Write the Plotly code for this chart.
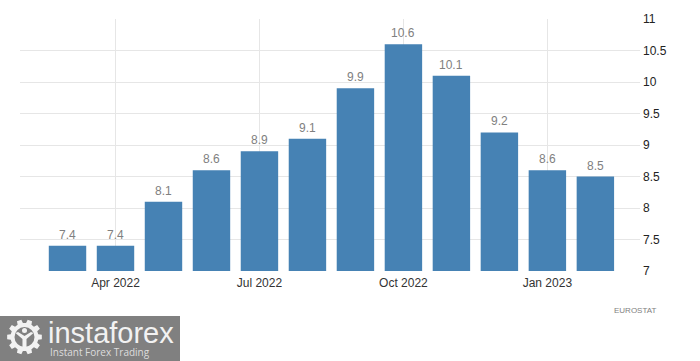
import math
import plotly.graph_objects as go

months = ["Mar 2022", "Apr 2022", "May 2022", "Jun 2022", "Jul 2022", "Aug 2022",
          "Sep 2022", "Oct 2022", "Nov 2022", "Dec 2022", "Jan 2023", "Feb 2023"]
values = [7.4, 7.4, 8.1, 8.6, 8.9, 9.1, 9.9, 10.6, 10.1, 9.2, 8.6, 8.5]
x_ticks = ["Apr 2022", "Jul 2022", "Oct 2022", "Jan 2023"]
y_ticks = [7, 7.5, 8, 8.5, 9, 9.5, 10, 10.5, 11]
source = "EUROSTAT"
logo_name = "instaforex"
logo_tagline = "Instant Forex Trading"

W, H = 700, 361
FONT = "Liberation Sans, Arial, sans-serif"

def X(p): return (p - 20) / 620
def Y(p): return (271 - p) / 252

fig = go.Figure(go.Bar(
    x=months, y=values,
    marker=dict(color="#4682b4", line_width=0),
    width=0.78,
    cliponaxis=False,
    hoverinfo="x+y",
))

fig.update_layout(
    width=W, height=H, autosize=False,
    margin=dict(l=20, r=60, t=19, b=90, pad=0),
    paper_bgcolor="white", plot_bgcolor="white",
    showlegend=False,
    font=dict(family=FONT),
    xaxis=dict(
        type="category", categoryorder="array", categoryarray=months,
        range=[-0.99, 11.93],
        tickmode="array", tickvals=x_ticks, ticktext=x_ticks,
        showgrid=True, gridcolor="#e6e6e6", gridwidth=1,
        ticks="", showline=False, zeroline=False, ticklabelstandoff=3,
        tickfont=dict(family=FONT, size=12, color="#333333"),
    ),
    yaxis=dict(
        side="right", range=[7, 11],
        tickmode="array", tickvals=y_ticks, ticktext=[f"{t:g}" for t in y_ticks],
        showgrid=True, gridcolor="#e6e6e6", gridwidth=1,
        ticks="", showline=False, zeroline=False, ticklabelstandoff=2,
        tickfont=dict(family=FONT, size=12, color="#222222"),
    ),
)

for m, v in zip(months, values):
    fig.add_annotation(x=m, y=v, text=f"{v:.1f}", showarrow=False, yanchor="bottom",
                       yshift=2, font=dict(family=FONT, size=12, color="#808080"))

fig.add_annotation(text=source, xref="paper", yref="paper", x=X(658), y=Y(311),
                   xanchor="right", yanchor="middle", showarrow=False,
                   font=dict(family=FONT, size=8, color="#808080"))

# Watermark
LOGO_BG, LOGO_FG = "#808080", "#f2f2f2"
def add_poly(points, color):
    path = "M " + " L ".join(f"{X(a):.4f},{Y(b):.4f}" for a, b in points) + " Z"
    fig.add_shape(type="path", xref="paper", yref="paper", path=path,
                  fillcolor=color, line_width=0, layer="above")

fig.add_shape(type="rect", xref="paper", yref="paper", x0=X(0), x1=X(180), y0=Y(361), y1=Y(316),
              fillcolor=LOGO_BG, line_width=0, layer="above")
cx, cy = 24.5, 337
pts = []
N = 10
for i in range(N):
    a = 2 * math.pi * i / N
    for da, r in [(-0.20, 14), (-0.13, 17.5), (0.13, 17.5), (0.20, 14)]:
        pts.append((cx + r * math.cos(a + da), cy + r * math.sin(a + da)))
add_poly(pts, LOGO_FG)
fig.add_shape(type="circle", xref="paper", yref="paper", x0=X(cx - 10), x1=X(cx + 10),
              y0=Y(cy + 10), y1=Y(cy - 10), fillcolor=LOGO_BG, line_width=0, layer="above")
fig.add_shape(type="circle", xref="paper", yref="paper", x0=X(cx - 2.5), x1=X(cx + 2.5),
              y0=Y(cy - 4), y1=Y(cy - 9), fillcolor=LOGO_FG, line_width=0, layer="above")
add_poly([(cx - 9, cy - 4), (cx - 6.5, cy - 5), (cx, cy - 1), (cx + 6.5, cy - 5), (cx + 9, cy - 4),
          (cx + 2, cy + 2), (cx + 2, cy + 12), (cx - 2, cy + 12), (cx - 2, cy + 2)], LOGO_FG)
fig.add_annotation(text=logo_name, xref="paper", yref="paper", x=X(46), y=Y(333),
                   xanchor="left", yanchor="middle", showarrow=False,
                   font=dict(family="Liberation Sans, Arial, sans-serif", size=29, color=LOGO_FG))
fig.add_annotation(text=logo_tagline, xref="paper", yref="paper", x=X(48), y=Y(352),
                   xanchor="left", yanchor="middle", showarrow=False,
                   font=dict(family="Open Sans, sans-serif", size=10, color="#dddddd"))

fig.write_html("out.html", config={"displayModeBar": False},
               post_script="document.body.style.margin='0';document.documentElement.style.overflow='hidden';")
